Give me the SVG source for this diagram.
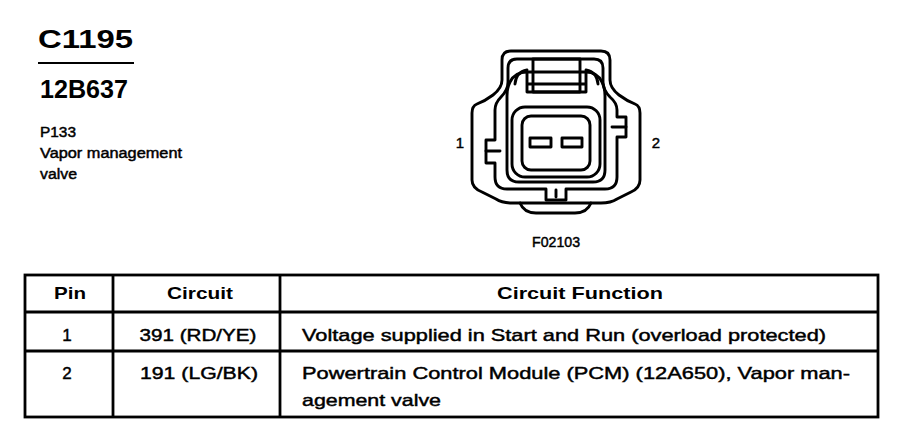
<svg xmlns="http://www.w3.org/2000/svg" width="912" height="448" viewBox="0 0 912 448">
<style>
.t{font-family:"Liberation Sans",Arial,Helvetica,sans-serif;fill:#000}
.r{stroke:#000;stroke-width:0.45}
.b{font-weight:bold}
.ln{fill:none;stroke:#000;stroke-width:2.9;stroke-linejoin:round;stroke-linecap:round}
.tb{fill:none;stroke:#000;stroke-width:2.8}
</style>
<rect width="912" height="448" fill="#fff"/>
<g id="header">
<text class="t b" x="38" y="48" font-size="26" textLength="95" lengthAdjust="spacingAndGlyphs">C1195</text>
<line x1="38" y1="63" x2="134" y2="63" stroke="#000" stroke-width="2.2"/>
<text class="t b" x="40" y="98" font-size="26" textLength="88" lengthAdjust="spacingAndGlyphs">12B637</text>
<text class="t r" x="40" y="137" font-size="14" textLength="36" lengthAdjust="spacingAndGlyphs">P133</text>
<text class="t r" x="40" y="158" font-size="14" textLength="142" lengthAdjust="spacingAndGlyphs">Vapor management</text>
<text class="t r" x="40" y="179" font-size="14" textLength="37" lengthAdjust="spacingAndGlyphs">valve</text>
</g>
<g id="connector">
<path class="ln" d="M511,51 H601 Q610,51 610,60 V80 Q610,88 619,95 Q627,101 635,104 Q640,106 640,113 V180 Q640,188 631,192 L617,199 Q611,203 601,203 H512 Q502,203 496,199 L482,192 Q472,188 472,180 V113 Q472,106 477,104 Q485,101 493,95 Q502,88 502,80 V60 Q502,51 511,51 Z"/>
<path class="ln" d="M520,203 Q524,213 536,213 H575 Q587,213 591,203"/>
<path class="ln" d="M517,59 H594 Q603,59 603,68 V82 Q603,90 610,97 Q617,103 617,110 V117 H626 V137 H617 V177 Q617,189 605,189 H566 V200 H546 V189 H507 Q495,189 495,177 V163 H486 V140 H495 V110 Q495,103 501,97 Q508,90 508,82 V68 Q508,59 517,59 Z"/>
<line class="ln" x1="486" y1="151" x2="500" y2="151"/>
<line class="ln" x1="612" y1="127" x2="626" y2="127"/>
<line class="ln" x1="556" y1="190" x2="556" y2="197"/>
<path class="ln" d="M527,72 Q515,72 510,82 Q507,88 507,96 V170 Q507,182 519,182 H593 Q605,182 605,170 V96 Q605,88 602,82 Q597,72 586,72"/>
<rect class="ln" x="533" y="59" width="47" height="33"/>
<path class="ln" d="M527,72 H586 M527,84 H586 M527,92 H586 M527,72 V92 M586,72 V92"/>
<path class="ln" d="M515,84 Q516,72 527,70 M598,84 Q597,72 586,70"/>
<rect class="ln" x="512" y="107" width="88" height="70" rx="13"/>
<rect class="ln" x="522" y="116" width="68" height="54" rx="9"/>
<rect class="ln" x="530" y="138" width="21" height="9"/>
<rect class="ln" x="562" y="138" width="20" height="9"/>
<text class="t r" x="460" y="148" font-size="15" text-anchor="middle">1</text>
<text class="t r" x="656" y="148" font-size="15" text-anchor="middle">2</text>
<text class="t r" x="556" y="247" font-size="14" text-anchor="middle" textLength="48" lengthAdjust="spacingAndGlyphs">F02103</text>
</g>
<g id="table">
<rect class="tb" x="25" y="275" width="853" height="142"/>
<line class="tb" x1="25" y1="312" x2="878" y2="312"/>
<line class="tb" x1="25" y1="351" x2="878" y2="351"/>
<line class="tb" x1="113" y1="275" x2="113" y2="417"/>
<line class="tb" x1="280" y1="275" x2="280" y2="417"/>
<text class="t b" x="70" y="299" font-size="17" text-anchor="middle" textLength="32" lengthAdjust="spacingAndGlyphs">Pin</text>
<text class="t b" x="200" y="299" font-size="17" text-anchor="middle" textLength="66" lengthAdjust="spacingAndGlyphs">Circuit</text>
<text class="t b" x="580" y="299" font-size="17" text-anchor="middle" textLength="166" lengthAdjust="spacingAndGlyphs">Circuit Function</text>
<text class="t r" x="67" y="341" font-size="17" text-anchor="middle">1</text>
<text class="t r" x="198" y="341" font-size="17" text-anchor="middle" textLength="117" lengthAdjust="spacingAndGlyphs">391 (RD/YE)</text>
<text class="t r" x="302" y="341" font-size="17" textLength="524" lengthAdjust="spacingAndGlyphs">Voltage supplied in Start and Run (overload protected)</text>
<text class="t r" x="67" y="379" font-size="17" text-anchor="middle">2</text>
<text class="t r" x="199" y="379" font-size="17" text-anchor="middle" textLength="118" lengthAdjust="spacingAndGlyphs">191 (LG/BK)</text>
<text class="t r" x="302" y="379" font-size="17" textLength="548" lengthAdjust="spacingAndGlyphs">Powertrain Control Module (PCM) (12A650), Vapor man-</text>
<text class="t r" x="302" y="406" font-size="17" textLength="139" lengthAdjust="spacingAndGlyphs">agement valve</text>
</g>
</svg>
